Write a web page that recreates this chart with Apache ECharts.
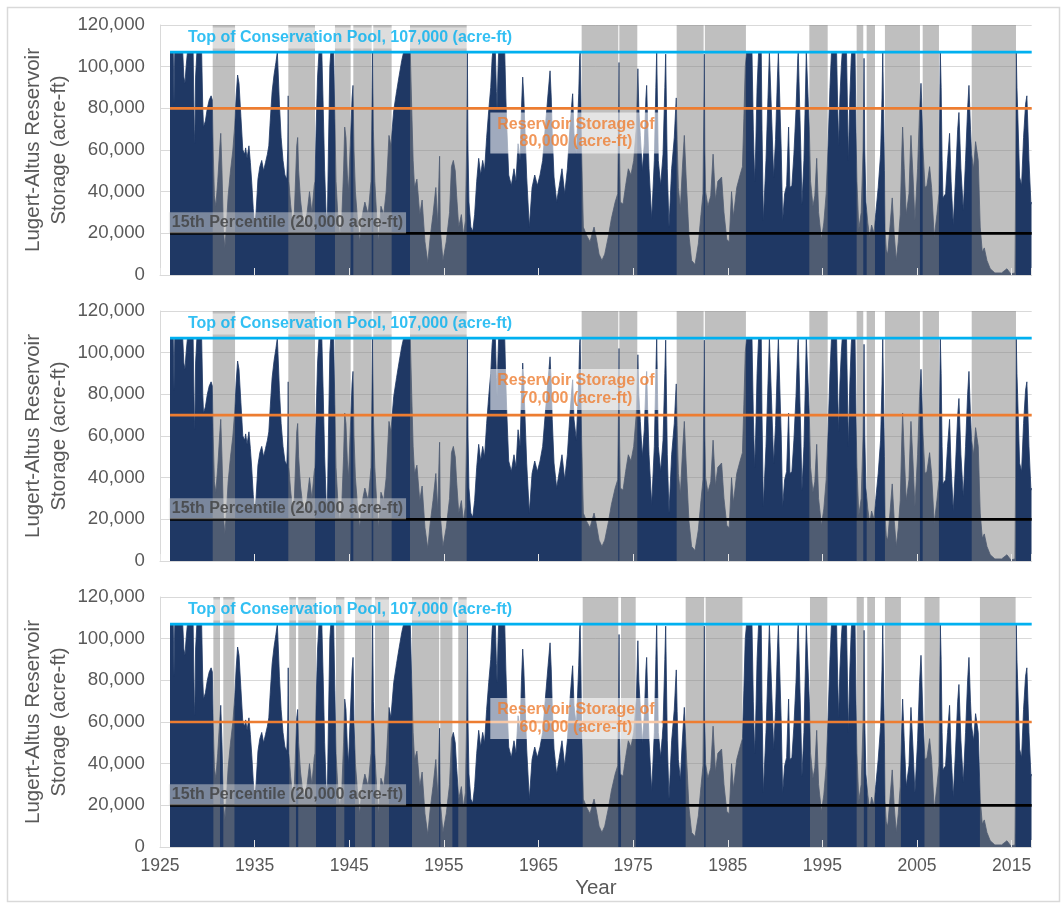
<!DOCTYPE html>
<html>
<head>
<meta charset="utf-8">
<title>Lugert-Altus Reservoir Storage</title>
<script src="https://cdn.jsdelivr.net/npm/echarts/dist/echarts.min.js"></script>
<style>
  html, body { margin: 0; padding: 0; background: #ffffff; }
  #chart { width: 1063px; height: 905px; }
</style>
</head>
<body>
<div id="chart"></div>
<script>
// Monthly-resolution reservoir storage profile (decimal year, thousand acre-ft)
const storageYear = [
  1926.06,1926.40,1926.48,1926.56,1927.40,1927.52,1927.64,1927.76,1927.90,1928.50,1928.62,1928.68,1928.76,1928.90,1929.40,1929.52,1929.60,1929.80,1930.00,1930.20,
  1930.40,1930.53,1930.62,1930.75,1930.90,1931.10,1931.30,1931.42,1931.55,1931.70,1931.85,1932.00,1932.20,1932.45,1932.70,1932.90,1933.05,1933.20,1933.35,1933.55,
  1933.75,1933.95,1934.05,1934.20,1934.40,1934.55,1934.70,1934.85,1935.00,1935.15,1935.35,1935.55,1935.75,1935.95,1936.15,1936.35,1936.50,1936.65,1936.85,1937.05,
  1937.25,1937.40,1937.50,1937.62,1937.80,1938.00,1938.20,1938.40,1938.50,1938.55,1938.62,1938.80,1939.00,1939.20,1939.45,1939.55,1939.65,1939.85,1940.05,1940.30,
  1940.55,1940.80,1941.05,1941.30,
  1941.38,1941.50,1941.65,1941.80,1942.10,1942.25,1942.40,1942.55,1942.68,1942.80,1942.95,1943.05,1943.35,1943.48,1943.60,1943.80,1944.00,1944.20,1944.40,1944.52,
  1944.65,1944.80,1944.92,1945.10,1945.30,1945.40,1945.50,1945.65,1945.85,1946.10,1946.35,1946.65,1947.00,1947.30,1947.42,1947.47,1947.55,1947.70,1947.90,1948.10,
  1948.35,1948.65,1948.90,1949.20,1949.40,1949.70,1950.00,1950.25,1950.55,1950.75,1951.45,1951.60,1951.75,1951.90,1952.15,1952.45,1952.70,1953.00,1953.30,1953.55,
  1953.85,1954.15,1954.35,1954.50,1954.55,1954.62,1954.90,1955.25,1955.60,1955.80,1956.00,1956.20,
  1956.35,1956.57,1956.85,1957.06,1957.27,1957.40,1957.48,1957.55,1957.65,1957.85,1958.05,1958.25,1958.47,1958.68,1958.89,1959.10,1959.30,1959.52,1959.74,1959.95,
  1960.10,1960.16,1960.44,1960.55,1960.62,1960.72,1960.79,1961.43,1961.55,1961.65,1961.85,1962.13,1962.41,1962.62,1962.84,1963.05,1963.20,1963.33,1963.45,1963.55,
  1963.75,1964.03,1964.32,1964.60,1964.88,1965.16,1965.44,1965.72,1966.01,1966.22,1966.35,1966.45,1966.64,1966.92,1967.20,1967.48,1967.77,1968.05,1968.33,1968.55,
  1968.61,1968.75,1969.00,1969.25,1969.35,1969.40,1969.48,1969.55,1969.74,1970.09,1970.44,1970.87,
  1971.10,1971.40,1971.70,1972.00,1972.40,1972.70,1973.10,1973.37,1973.47,1973.51,1973.56,1973.65,1973.93,1974.21,1974.49,1974.77,1975.06,1975.34,1975.50,1975.60,
  1975.76,1975.97,1976.18,1976.35,1976.43,1976.55,1976.68,1976.96,1977.24,1977.40,1977.49,1977.58,1977.66,1977.91,1978.16,1978.35,1978.44,1978.52,1978.61,1978.79,
  1979.07,1979.35,1979.50,1979.56,1979.65,1979.78,1979.99,1980.20,1980.41,1980.60,1980.90,1981.18,1981.54,1981.89,1982.17,1982.38,1982.47,1982.52,1982.58,1982.66,
  1982.90,1983.20,1983.45,1983.70,1983.95,1984.35,1984.60,1984.90,1985.15,1985.40,1985.60,1985.95,1986.30,1986.55,
  1986.70,1986.85,1986.99,1987.56,1987.70,1987.84,1987.95,1988.10,1988.26,1988.54,1988.62,1988.76,1989.04,1989.25,1989.40,1989.58,1989.68,1989.85,1990.05,1990.25,
  1990.35,1990.55,1990.65,1990.80,1991.01,1991.22,1991.43,1991.57,1991.78,1991.99,1992.21,1992.40,1992.45,1992.62,1992.72,1992.84,1993.05,1993.20,1993.30,1993.48,
  1993.62,1993.75,1994.00,1994.20,1994.40,1994.60,1994.90,1995.15,1995.40,1995.60,1995.80,1995.96,1996.50,1996.62,1996.72,1996.85,1997.00,1997.10,1997.55,1997.65,
  1997.75,1997.90,1998.05,1998.10,1998.45,1998.55,1998.65,1998.85,1999.10,1999.30,1999.40,1999.48,1999.60,1999.80,2000.00,2000.20,2000.45,2000.65,2000.90,2001.15,
  2001.30,2001.38,2001.48,2001.56,2001.62,
  2001.75,2001.90,2002.14,2002.38,2002.60,2002.81,2003.02,2003.23,2003.40,2003.48,2003.65,2003.86,2004.15,2004.30,2004.36,2004.57,2004.78,2005.06,2005.27,2005.42,
  2005.48,2005.63,2005.84,2006.05,2006.33,2006.54,2006.82,2007.10,2007.32,2007.40,2007.46,2007.55,2007.65,2007.74,2008.02,2008.23,2008.44,2008.60,2008.83,2009.08,
  2009.30,2009.43,2009.64,2009.89,2010.13,2010.35,2010.49,2010.65,2010.77,2010.98,2011.19,2011.47,2011.68,2011.90,2012.11,2012.39,2012.74,2013.23,2013.94,2014.50,
  2014.92,2015.35,2015.42,2015.49,2015.56,2015.63,2015.84,2016.05,2016.26,2016.47,2016.61,2016.83,2017.04,2017.10
];
const storageKaf = [
  107,107,82,107,107,95,92,100,107,107,70,63,95,107,107,80,71,74,80,84,
  86,84,60,38,33,45,60,68,50,22,13,22,38,50,60,72,86,96,92,76,
  60,58,61,56,62,54,44,32,22,30,46,52,55,50,54,58,62,74,88,96,
  102,107,96,82,66,55,48,46,60,86,45,34,25,30,62,66,50,36,28,24,
  30,40,30,43,
  45,70,95,107,107,80,50,30,24,60,100,107,107,75,45,28,19,26,50,71,
  66,48,40,62,85,91,60,40,28,16,28,35,29,45,90,107,70,45,28,16,
  33,29,40,67,62,79,88,95,103,107,107,80,55,42,46,29,36,16,6,18,
  29,42,24,50,57,22,7,16,30,52,55,50,
  38,23,29,19,26,60,107,60,35,23,21,29,45,56,48,55,50,66,79,90,
  104,107,107,88,79,98,107,107,85,71,48,43,51,45,63,55,80,95,85,72,
  47,23,42,48,43,48,55,71,87,98,85,68,47,35,43,51,39,51,71,84,
  87,68,58,87,104,107,85,60,23,19,16,23,
  18,10,7,10,19,27,35,39,80,102,60,35,34,43,51,48,55,71,99,80,
  67,50,63,85,91,70,51,27,55,90,107,80,55,43,58,90,106,80,51,23,
  51,66,80,85,65,42,32,51,67,47,19,7,5,15,29,39,80,106,60,40,
  33,38,58,36,45,47,30,17,16,40,28,42,48,52,
  75,100,107,107,70,45,60,90,107,107,70,26,55,85,107,107,70,47,65,95,
  107,107,60,26,39,43,71,42,43,58,79,104,107,107,60,34,55,85,107,107,
  70,45,33,38,56,30,17,25,39,62,90,107,107,80,62,85,100,107,107,80,
  55,85,104,107,107,70,45,22,30,60,104,60,35,25,18,24,20,30,42,58,
  85,107,107,50,22,
  12,10,23,37,19,7,16,29,60,71,51,29,39,60,67,48,26,51,79,92,
  85,61,42,43,52,42,18,29,39,80,107,90,55,37,39,55,68,45,24,47,
  70,78,51,31,55,80,91,70,58,51,64,55,23,11,13,7,3,1,1,3,
  0.5,1,40,107,90,80,47,43,66,82,86,55,34,35
];

// Drought periods shaded on each panel (start year, end year)
const droughts80k = [
  [1930.57,1932.93],[1938.56,1941.38],[1943.49,1945.15],[1945.43,1947.37],[1947.54,1949.48],[1951.42,1957.41],
  [1969.56,1973.43],[1973.54,1975.44],[1979.60,1982.45],[1982.58,1986.92],[1993.62,1995.56],[1998.62,1999.32],
  [1999.68,2000.56],[2001.61,2005.31],[2005.60,2007.32],[2010.78,2015.46]
];
const droughts70k = [
  [1930.57,1932.93],[1938.56,1941.38],[1943.49,1945.15],[1945.43,1947.37],[1947.54,1949.48],[1951.42,1957.41],
  [1969.56,1973.43],[1973.54,1975.44],[1979.60,1982.45],[1982.58,1986.92],[1993.62,1995.56],[1998.62,1999.32],
  [1999.68,2000.56],[2001.61,2005.31],[2005.60,2007.32],[2010.78,2015.46]
];
const droughts60k = [
  [1930.64,1931.34],[1931.69,1932.87],[1938.66,1939.37],[1939.61,1941.49],[1943.60,1944.48],[1945.61,1947.37],
  [1947.72,1949.20],[1951.63,1954.50],[1954.62,1955.90],[1956.52,1957.41],[1969.67,1973.43],[1973.72,1975.27],
  [1980.55,1982.50],[1982.66,1986.55],[1993.69,1995.52],[1998.62,1999.38],[1999.74,2000.56],[2001.61,2003.30],
  [2005.79,2007.38],[2011.65,2015.42]
];

// Reference levels (acre-ft)
const conservationPoolTop = 107000;
const percentile15 = 20000;
const storageTargets = [80000, 70000, 60000];

// Text
const poolLabel = 'Top of Conservation Pool, 107,000 (acre-ft)';
const targetLabels = [
  'Reservoir Storage of\n80,000 (acre-ft)',
  'Reservoir Storage of\n70,000 (acre-ft)',
  'Reservoir Storage of\n60,000 (acre-ft)'
];
const percentileLabel = '15th Percentile (20,000 acre-ft)';
const yAxisTitle = 'Lugert-Altus Reservoir\nStorage (acre-ft)';
const xAxisTitle = 'Year';

// ---- drawing ----
const FONT = '"Liberation Sans", Arial, Helvetica, sans-serif';
const NAVY = '#1f3864';
const BLUE = '#00b0f0';
const ORANGE = '#ed7d31';
const GREY_TEXT = '#595959';
const GRID_LINE = '#d9d9d9';
const X_MIN = 1925, X_MAX = 2017.12;
const Y_MAX = 120000;
const panelTops = [25, 311, 597];
const panelBands = [droughts80k, droughts70k, droughts60k];
const targetLabelY = [68200, 82300, 61700];

const storageData = storageYear.map((y, i) => [y, storageKaf[i] * 1000]);
const lineStart = storageYear[0];

const grids = [], xAxes = [], yAxes = [], series = [];

panelTops.forEach((top, i) => {
  grids.push({ left: 160, right: 31.3, top: top, height: 250, outerBoundsMode: 'none', containLabel: false });

  xAxes.push({
    gridIndex: i, type: 'value', min: X_MIN, max: X_MAX, interval: 10, z: 4,
    axisLine: { show: true, lineStyle: { color: GRID_LINE, width: 1 } },
    axisTick: { show: true, inside: true, length: 7, lineStyle: { color: '#e6e6e6', width: 1 } },
    splitLine: { show: false },
    axisLabel: {
      show: i === 2, margin: 10, fontSize: 17.6, color: GREY_TEXT, fontFamily: FONT,
      formatter: v => (Math.abs((v - X_MIN) % 10) < 1e-6 ? String(Math.round(v)) : '')
    },
    name: i === 2 ? xAxisTitle : '', nameLocation: 'middle', nameGap: 31, nameMoveOverlap: false,
    nameTextStyle: { fontSize: 20.5, color: GREY_TEXT, fontFamily: FONT }
  });

  yAxes.push({
    gridIndex: i, type: 'value', min: 0, max: Y_MAX, interval: 20000,
    axisLine: { show: true, lineStyle: { color: GRID_LINE, width: 1 } },
    axisTick: { show: false },
    splitLine: { show: true, lineStyle: { color: GRID_LINE, width: 1 } },
    axisLabel: {
      margin: 15, fontSize: 18.7, color: GREY_TEXT, fontFamily: FONT,
      formatter: v => v.toLocaleString('en-US')
    },
    name: yAxisTitle, nameLocation: 'middle', nameRotate: 90, nameGap: 88, nameMoveOverlap: false,
    nameTextStyle: { fontSize: 20.5, lineHeight: 26, color: GREY_TEXT, fontFamily: FONT, align: 'center' }
  });

  // storage area
  series.push({
    type: 'line', xAxisIndex: i, yAxisIndex: i, data: storageData,
    symbol: 'none', showSymbol: false, silent: true, z: 2,
    lineStyle: { width: 0.8, color: NAVY },
    areaStyle: { color: NAVY, opacity: 1 }
  });

  // drought shading laid over the storage area
  series.push({
    type: 'custom', xAxisIndex: i, yAxisIndex: i, data: panelBands[i], silent: true, z: 3,
    renderItem: (params, api) => {
      const p0 = api.coord([api.value(0), Y_MAX]);
      const p1 = api.coord([api.value(1), 0]);
      return {
        type: 'rect',
        shape: { x: p0[0], y: p0[1], width: p1[0] - p0[0], height: p1[1] - p0[1] },
        style: { fill: 'rgba(128,128,128,0.5)' }
      };
    }
  });

  // reference lines
  [[conservationPoolTop, BLUE], [storageTargets[i], ORANGE], [percentile15, '#000000']].forEach(([v, c]) => {
    series.push({
      type: 'line', xAxisIndex: i, yAxisIndex: i, silent: true, z: 4,
      data: [[lineStart, v], [X_MAX, v]], symbol: 'none',
      lineStyle: { width: 2.6, color: c }
    });
  });

  // annotations
  series.push({
    type: 'scatter', xAxisIndex: i, yAxisIndex: i, silent: true, z: 5,
    symbolSize: 0.1, itemStyle: { color: 'rgba(0,0,0,0)' },
    label: { show: true, position: 'inside', fontFamily: FONT, fontWeight: 'bold', fontSize: 16 },
    data: [
      { value: [1945.08, 113800], label: { formatter: poolLabel, color: BLUE,
          backgroundColor: 'rgba(255,255,255,0.6)', padding: [3, 4, 2, 4] } },
      { value: [1968.96, targetLabelY[i]], label: { formatter: targetLabels[i], color: ORANGE, align: 'center',
          lineHeight: 17.5, backgroundColor: 'rgba(255,255,255,0.72)', padding: [4, 7, 2, 7] } },
      { value: [1938.47, 25100], label: { formatter: percentileLabel, color: '#404040',
          backgroundColor: 'rgba(217,217,217,0.62)', padding: [3, 3, 2, 3] } }
    ]
  });
});

const chart = echarts.init(document.getElementById('chart'), null, { renderer: 'canvas' });
chart.setOption({
  animation: false,
  backgroundColor: '#ffffff',
  grid: grids,
  xAxis: xAxes,
  yAxis: yAxes,
  series: series,
  graphic: [{
    type: 'rect', left: 5, top: 5, silent: true, z: -1,
    shape: { width: 1052, height: 894 },
    style: { fill: 'none', stroke: '#d9d9d9', lineWidth: 1.5 }
  }]
});
</script>
</body>
</html>
